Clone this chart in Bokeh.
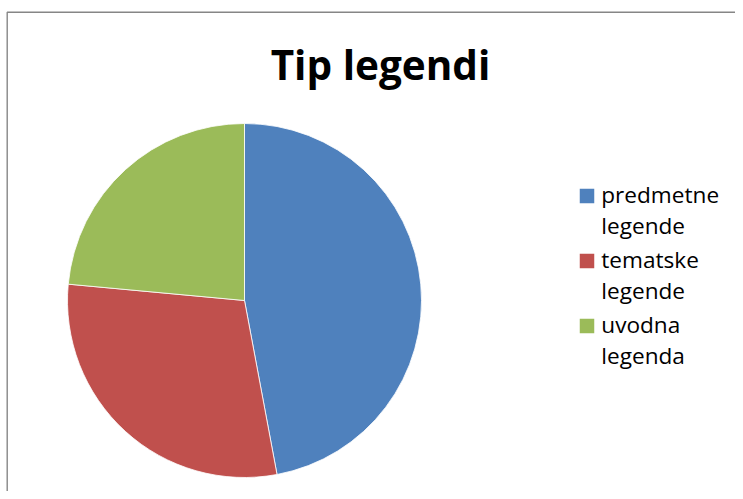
import numpy as np
from bokeh.plotting import figure
from bokeh.models import Range1d, ColumnDataSource
from bokeh.core.properties import value
from bokeh.embed import file_html
from bokeh.resources import INLINE

# ---- data ----
title_text = "Tip legendi"
categories = ["predmetne legende", "tematske legende", "uvodna legenda"]
counts = [8, 5, 4]
colors = ["#4F81BD", "#C0504D", "#9BBB59"]

# ---- layout (screenshot pixel coordinates, y negated) ----
W, H = 735, 491
p = figure(width=W, height=H, output_backend="svg", toolbar_location=None,
           x_range=Range1d(0, W), y_range=Range1d(-H, 0),
           x_axis_type=None, y_axis_type=None, min_border=0,
           background_fill_color="white", border_fill_color="white")
p.outline_line_color = None
p.grid.visible = False

# chart frame (left and top edges visible)
p.line(x=[6.7, 6.7, 760], y=[-520, -11.7, -11.7], line_color="#868686", line_width=1.4)

# pie
vals = np.array(counts, dtype=float)
ang = vals / vals.sum() * 2 * np.pi
ends = np.pi / 2 - np.cumsum(ang)
starts = ends + ang
src = ColumnDataSource(dict(start=starts, end=ends, color=colors, cat=categories))
p.wedge(x=244, y=-300, radius=177, start_angle="start", end_angle="end",
        direction="clock", fill_color="color", line_color="white", line_width=0.8,
        source=src)

# title
p.text(x=[380], y=[-64], text=[title_text], text_align="center", text_baseline="alphabetic",
       text_font=value("Open Sans"), text_font_style="bold", text_font_size="40.5px",
       text_color="black")

# legend (manual, wrapped labels)
base0, item_gap, line_gap = 203.0, 65.0, 30.5
shift = 9.0
lx, ly, lt = [], [], []
sx, sy = [], []
for i, cat in enumerate(categories):
    b = base0 + item_gap * i
    sx.append(586.5)
    sy.append(-(b - 7.5))
    for j, word in enumerate(cat.split(" ")):
        lx.append(600.8)
        ly.append(-(b - shift + line_gap * j))
        lt.append(word)
p.scatter(x=sx, y=sy, marker="square", size=14.5, fill_color=colors, line_color=None)
p.text(x=lx, y=ly, text=lt, text_align="left", text_baseline="alphabetic",
       text_font=value("Open Sans"), text_font_size="22.6px", text_color="black")

open("out.html", "w").write(file_html(p, INLINE))
